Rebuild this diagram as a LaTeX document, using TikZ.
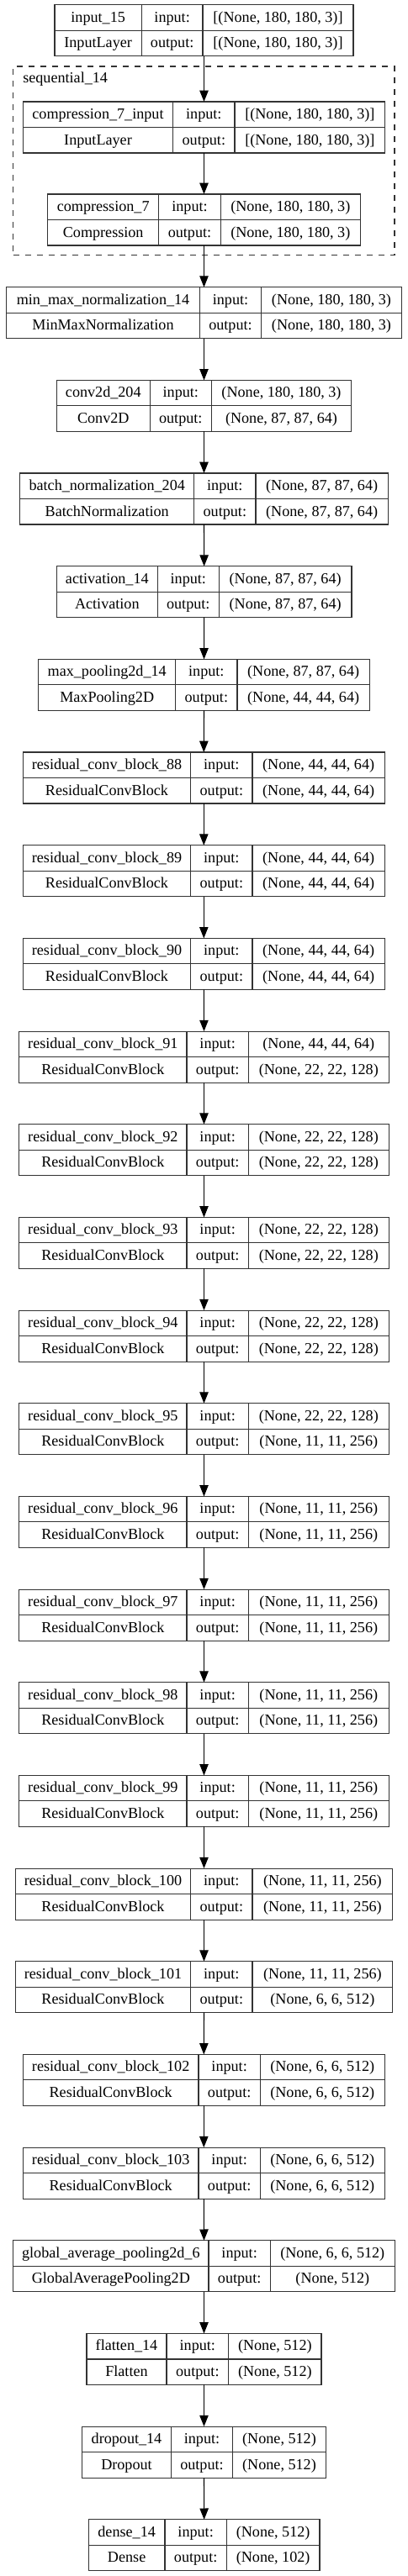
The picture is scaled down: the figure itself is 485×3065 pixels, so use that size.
\documentclass[tikz,border=0pt]{standalone}
\usepackage{fontspec}
\setmainfont{Liberation Serif}
\usetikzlibrary{arrows.meta}
\newcommand\setxs[4]{\def\xa{#1}\def\xb{#2}\def\xc{#3}\def\xd{#4}}
\newcommand\layerbox[6]{%
  \pgfmathsetmacro\cx{(\xa+\xd)/2}%
  \pgfmathsetmacro\bw{(\xd-\xa)*0.75}%
  \pgfmathsetmacro\ca{(\xa+\xb)/2}%
  \pgfmathsetmacro\cb{(\xb+\xc)/2}%
  \pgfmathsetmacro\cc{(\xc+\xd)/2}%
  \node[lbox, minimum width=\bw pt] (#1) at ({\cx},{#2+30.5}) {};
  \draw[dline] ({\xb},{#2}) -- ({\xb},{#2+61})
               ({\xc},{#2}) -- ({\xc},{#2+61})
               ({\xa},{#2+30.5}) -- ({\xd},{#2+30.5});
  \node[ctext] (#1-name) at ({\ca},{#2+20.4}) {#3};
  \node[ctext] (#1-type) at ({\ca},{#2+51}) {#4};
  \node[ctext] (#1-inl)  at ({\cb},{#2+20.4}) {input:};
  \node[ctext] (#1-outl) at ({\cb},{#2+51}) {output:};
  \node[ctext] (#1-in)   at ({\cc},{#2+20.4}) {#5};
  \node[ctext] (#1-out)  at ({\cc},{#2+51}) {#6};
}
\begin{document}
\begin{tikzpicture}[x=0.75pt,y=-0.75pt,
  lbox/.style={draw=black!80, line width=0.85pt, inner sep=0pt, outer sep=0pt, minimum height=45.75pt},
  dline/.style={draw=black!80, line width=0.85pt},
  ctext/.style={anchor=base, inner sep=0pt, font=\fontsize{13.6}{16}\selectfont, text=black},
  cluster/.style={draw=black!80, line width=0.85pt, dash pattern=on 5.25pt off 5.25pt, inner sep=0pt},
  arr/.style={draw=black, line width=0.8pt, -{Triangle[length=10pt,width=7.8pt]}}]
\fill[white] (0,0) rectangle (485,3065);
\useasboundingbox (0,0) rectangle (485,3065);

\node[cluster, minimum width={(469-15.7)*0.75pt}, minimum height={(303.3-79)*0.75pt}] (seq) at (242.35,191.15) {};
\node[ctext, anchor=base west] (seqlabel) at (27,99) {sequential\_14};

\setxs{65}{168.3}{241}{420}
\layerbox{L1}{5.7}{input\_15}{InputLayer}{[(None, 180, 180, 3)]}{[(None, 180, 180, 3)]}
\setxs{27.3}{205.7}{279}{457.7}
\layerbox{L2}{121}{compression\_7\_input}{InputLayer}{[(None, 180, 180, 3)]}{[(None, 180, 180, 3)]}
\setxs{56.7}{188.7}{262.3}{428.3}
\layerbox{L3}{231}{compression\_7}{Compression}{(None, 180, 180, 3)}{(None, 180, 180, 3)}
\setxs{7.7}{237.3}{310.7}{477.3}
\layerbox{L4}{341.7}{min\_max\_normalization\_14}{MinMaxNormalization}{(None, 180, 180, 3)}{(None, 180, 180, 3)}
\setxs{67.3}{178.3}{251.3}{417.7}
\layerbox{L5}{452.4}{conv2d\_204}{Conv2D}{(None, 180, 180, 3)}{(None, 87, 87, 64)}
\setxs{23.7}{230.7}{304}{461.3}
\layerbox{L6}{563}{batch\_normalization\_204}{BatchNormalization}{(None, 87, 87, 64)}{(None, 87, 87, 64)}
\setxs{67.3}{187.3}{260.3}{418}
\layerbox{L7}{673.7}{activation\_14}{Activation}{(None, 87, 87, 64)}{(None, 87, 87, 64)}
\setxs{45.7}{208.7}{282}{439.3}
\layerbox{L8}{784.4}{max\_pooling2d\_14}{MaxPooling2D}{(None, 87, 87, 64)}{(None, 44, 44, 64)}
\setxs{27.3}{226.7}{300}{457.3}
\layerbox{L9}{895}{residual\_conv\_block\_88}{ResidualConvBlock}{(None, 44, 44, 64)}{(None, 44, 44, 64)}
\layerbox{L10}{1005.7}{residual\_conv\_block\_89}{ResidualConvBlock}{(None, 44, 44, 64)}{(None, 44, 44, 64)}
\layerbox{L11}{1116.4}{residual\_conv\_block\_90}{ResidualConvBlock}{(None, 44, 44, 64)}{(None, 44, 44, 64)}
\setxs{22.7}{222}{295.3}{462.3}
\layerbox{L12}{1227.1}{residual\_conv\_block\_91}{ResidualConvBlock}{(None, 44, 44, 64)}{(None, 22, 22, 128)}
\layerbox{L13}{1337.7}{residual\_conv\_block\_92}{ResidualConvBlock}{(None, 22, 22, 128)}{(None, 22, 22, 128)}
\layerbox{L14}{1448.4}{residual\_conv\_block\_93}{ResidualConvBlock}{(None, 22, 22, 128)}{(None, 22, 22, 128)}
\layerbox{L15}{1559.1}{residual\_conv\_block\_94}{ResidualConvBlock}{(None, 22, 22, 128)}{(None, 22, 22, 128)}
\layerbox{L16}{1669.7}{residual\_conv\_block\_95}{ResidualConvBlock}{(None, 22, 22, 128)}{(None, 11, 11, 256)}
\layerbox{L17}{1780.4}{residual\_conv\_block\_96}{ResidualConvBlock}{(None, 11, 11, 256)}{(None, 11, 11, 256)}
\layerbox{L18}{1891.1}{residual\_conv\_block\_97}{ResidualConvBlock}{(None, 11, 11, 256)}{(None, 11, 11, 256)}
\layerbox{L19}{2001.7}{residual\_conv\_block\_98}{ResidualConvBlock}{(None, 11, 11, 256)}{(None, 11, 11, 256)}
\layerbox{L20}{2112.4}{residual\_conv\_block\_99}{ResidualConvBlock}{(None, 11, 11, 256)}{(None, 11, 11, 256)}
\setxs{18.3}{226.7}{300}{466.7}
\layerbox{L21}{2223.1}{residual\_conv\_block\_100}{ResidualConvBlock}{(None, 11, 11, 256)}{(None, 11, 11, 256)}
\layerbox{L22}{2333.7}{residual\_conv\_block\_101}{ResidualConvBlock}{(None, 11, 11, 256)}{(None, 6, 6, 512)}
\setxs{27.3}{236}{309.3}{457.3}
\layerbox{L23}{2444.4}{residual\_conv\_block\_102}{ResidualConvBlock}{(None, 6, 6, 512)}{(None, 6, 6, 512)}
\layerbox{L24}{2555.1}{residual\_conv\_block\_103}{ResidualConvBlock}{(None, 6, 6, 512)}{(None, 6, 6, 512)}
\setxs{15.7}{248}{321.3}{469.3}
\layerbox{L25}{2665.8}{global\_average\_pooling2d\_6}{GlobalAveragePooling2D}{(None, 6, 6, 512)}{(None, 512)}
\setxs{103}{198}{271.7}{382}
\layerbox{L26}{2776.4}{flatten\_14}{Flatten}{(None, 512)}{(None, 512)}
\setxs{97.7}{203.3}{276.7}{387.3}
\layerbox{L27}{2887.1}{dropout\_14}{Dropout}{(None, 512)}{(None, 512)}
\setxs{105.3}{196}{269.3}{380}
\layerbox{L28}{2997.8}{dense\_14}{Dense}{(None, 512)}{(None, 102)}

\foreach \i in {1,...,27} {
  \pgfmathtruncatemacro\j{\i+1}
  \draw[arr] (L\i.south) -- (L\j.north);
}
\end{tikzpicture}
\end{document}
